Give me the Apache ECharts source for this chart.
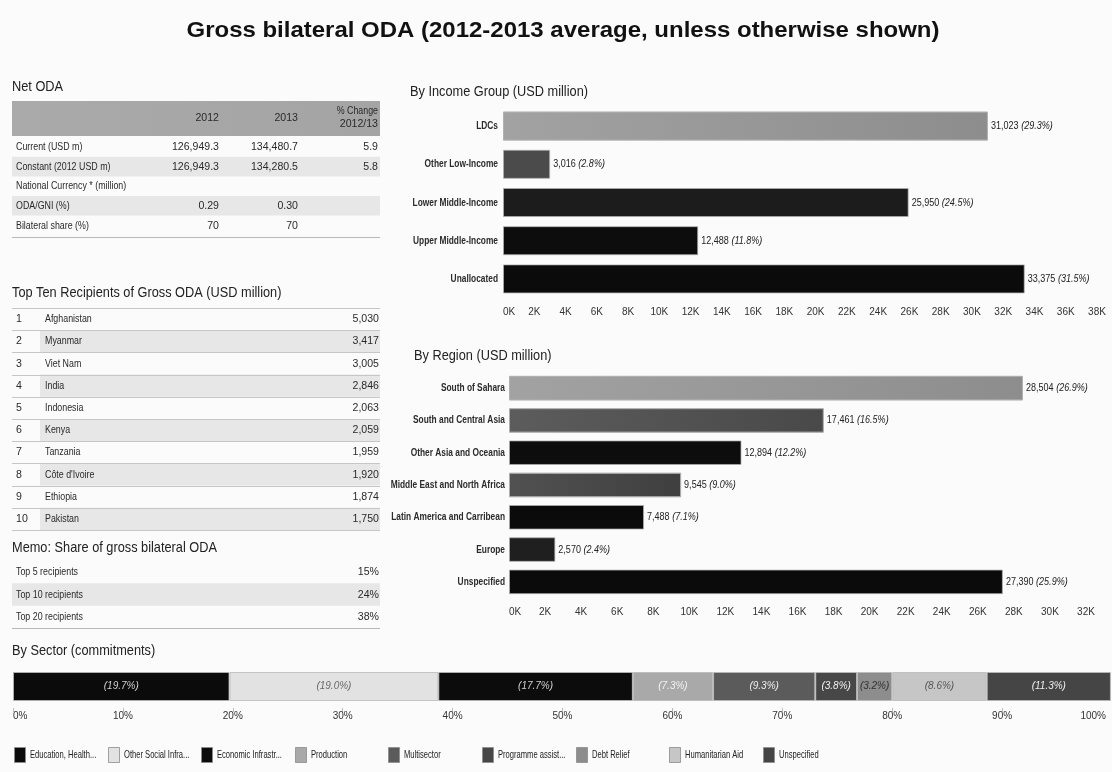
<!DOCTYPE html>
<html><head><meta charset="utf-8">
<script src="https://cdn.jsdelivr.net/npm/echarts@6/dist/echarts.min.js"></script>
<style>html,body{margin:0;padding:0;background:#fbfbfb;}#c{width:1112px;height:772px;}</style>
</head><body><div id="c"></div>
<script>
// ---------------- DATA ----------------
const mainTitle = 'Gross bilateral ODA (2012-2013 average, unless otherwise shown)';

const odaHeaders = ['2012', '2013', '% Change', '2012/13'];
const odaRowLabels = ['Current (USD m)', 'Constant (2012 USD m)', 'National Currency * (million)', 'ODA/GNI (%)', 'Bilateral share (%)'];
const oda2012 = ['126,949.3', '126,949.3', '', '0.29', '70'];
const oda2013 = ['134,480.7', '134,280.5', '', '0.30', '70'];
const odaChange = ['5.9', '5.8', '', '', ''];

const topRanks = [1, 2, 3, 4, 5, 6, 7, 8, 9, 10];
const topNames = ['Afghanistan', 'Myanmar', 'Viet Nam', 'India', 'Indonesia', 'Kenya', 'Tanzania', 'Côte d\'Ivoire', 'Ethiopia', 'Pakistan'];
const topValues = [5030, 3417, 3005, 2846, 2063, 2059, 1959, 1920, 1874, 1750];

const memoLabels = ['Top 5 recipients', 'Top 10 recipients', 'Top 20 recipients'];
const memoValues = ['15%', '24%', '38%'];

const incomeCategories = ['LDCs', 'Other Low-Income', 'Lower Middle-Income', 'Upper Middle-Income', 'Unallocated'];
const incomeValues = [31023, 3016, 25950, 12488, 33375];
const incomeShares = [29.3, 2.8, 24.5, 11.8, 31.5];

const regionCategories = ['South of Sahara', 'South and Central Asia', 'Other Asia and Oceania', 'Middle East and North Africa', 'Latin America and Carribean', 'Europe', 'Unspecified'];
const regionValues = [28504, 17461, 12894, 9545, 7488, 2570, 27390];
const regionShares = [26.9, 16.5, 12.2, 9.0, 7.1, 2.4, 25.9];

const sectorNames = ['Education, Health...', 'Other Social Infra...', 'Economic Infrastr...', 'Production', 'Multisector', 'Programme assist...', 'Debt Relief', 'Humanitarian Aid', 'Unspecified'];
const sectorShares = [19.7, 19.0, 17.7, 7.3, 9.3, 3.8, 3.2, 8.6, 11.3];

// ---------------- STYLES ----------------
const FAM = '"Liberation Sans", Arial, sans-serif';
const fnt = (size, extra) => (extra ? extra + ' ' : '') + size + 'px ' + FAM;
function grad(a, b) { return {type: 'linear', x: 0, y: 0, x2: 1, y2: 0, colorStops: [{offset: 0, color: a}, {offset: 1, color: b}]}; }
const incomeColors = [grad('#a2a2a2', '#8d8d8d'), '#4b4b4b', '#1c1c1c', '#0d0d0d', '#0b0b0b'];
const regionColors = [grad('#a2a2a2', '#8d8d8d'), grad('#5c5c5c', '#494949'), '#0d0d0d', grad('#515151', '#3f3f3f'), '#0b0b0b', '#1f1f1f', '#0b0b0b'];
const sectorColors = ['#0b0b0b', '#e2e2e2', '#0c0c0c', '#a9a9a9', '#5b5b5b', '#474747', '#8d8d8d', '#c6c6c6', '#454545'];
const sectorLabelColors = ['#cfcfcf', '#6a6a6a', '#cfcfcf', '#f2f2f2', '#eeeeee', '#f2f2f2', '#333333', '#555555', '#eeeeee'];
const fmt = n => n.toLocaleString('en-US');
const SX = 0.77;   // horizontal condensing of small texts

// ---------------- GRAPHIC helpers ----------------
const g = [];
function txt(x, y, s, o) {
  o = o || {};
  g.push({type: 'text', x: x, y: y, scaleX: o.sx == null ? SX : o.sx, silent: true,
    style: {text: s, fill: o.fill || '#2a2a2a', font: o.font || fnt(11.5), align: o.align || 'left', verticalAlign: 'middle', rich: o.rich}});
}
function rct(x, y, w, h, fill, stroke) { g.push({type: 'rect', silent: true, shape: {x: x, y: y, width: w, height: h}, style: {fill: fill, stroke: stroke || null, lineWidth: stroke ? 1 : 0}}); }
function lin(x1, y, x2, stroke) { g.push({type: 'line', silent: true, shape: {x1: x1, y1: y + 0.5, x2: x2, y2: y + 0.5}, style: {stroke: stroke || '#c4c4c4', lineWidth: 1}}); }

// main + section titles
txt(563, 31, mainTitle, {font: fnt(22, 'bold'), fill: '#111', align: 'center', sx: 1.09});
const secT = {font: fnt(14.5), fill: '#222', sx: 0.88};
txt(12, 87, 'Net ODA', secT);
txt(12, 293, 'Top Ten Recipients of Gross ODA (USD million)', secT);
txt(12, 548, 'Memo: Share of gross bilateral ODA', secT);
txt(410, 92, 'By Income Group (USD million)', secT);
txt(414, 356, 'By Region (USD million)', secT);
txt(12, 651, 'By Sector (commitments)', secT);

// Net ODA table
const numT = {align: 'right', sx: 0.92};
rct(12, 101, 368, 35, grad('#aaaaaa', '#a4a4a4'));
txt(219, 118, odaHeaders[0], numT);
txt(298, 118, odaHeaders[1], numT);
txt(378, 111, odaHeaders[2], {align: 'right'});
txt(378, 124, odaHeaders[3], numT);
const odaY0 = 147, odaStep = 19.6;
odaRowLabels.forEach((lab, i) => {
  const cy = odaY0 + i * odaStep;
  if (i % 2 === 1) rct(12, cy - odaStep / 2, 368, odaStep, '#e7e7e7');
});
odaRowLabels.forEach((lab, i) => {
  const cy = odaY0 + i * odaStep;
  txt(16, cy, lab);
  txt(219, cy, oda2012[i], numT);
  txt(298, cy, oda2013[i], numT);
  txt(378, cy, odaChange[i], numT);
});
lin(12, 237, 380, '#b8b8b8');

// Top ten table
const topY0 = 319, topStep = 22.2;
topNames.forEach((n, i) => {
  const cy = topY0 + i * topStep;
  if (i % 2 === 1) rct(40, cy - topStep / 2, 340, topStep, '#e7e7e7');
});
for (let i = 0; i <= topNames.length; i++) lin(12, Math.round(topY0 - topStep / 2 + i * topStep), 380, '#c6c6c6');
topNames.forEach((n, i) => {
  const cy = topY0 + i * topStep;
  txt(16, cy, String(topRanks[i]), {sx: 0.92});
  txt(45, cy, n);
  txt(379, cy, fmt(topValues[i]), numT);
});

// Memo table
const memoY0 = 572, memoStep = 22.5;
memoLabels.forEach((n, i) => {
  const cy = memoY0 + i * memoStep;
  if (i % 2 === 1) rct(12, cy - memoStep / 2, 368, memoStep, '#e7e7e7');
});
memoLabels.forEach((n, i) => {
  const cy = memoY0 + i * memoStep;
  txt(16, cy, n);
  txt(379, cy, memoValues[i], numT);
});
lin(12, 628, 380, '#b8b8b8');

// Sector legend
sectorNames.forEach((n, i) => {
  const x = 14 + i * 93.6;
  rct(Math.round(x) + 0.5, 747.5, 11, 15, sectorColors[i], 'rgba(140,140,140,0.8)');
  txt(Math.round(x) + 16, 755, n, {font: fnt(11), sx: 0.69, fill: '#222'});
});

// ---------------- CHART ----------------
function barSeries(values, colors, idx) {
  return {
    type: 'bar', xAxisIndex: idx, yAxisIndex: idx, barCategoryGap: '24%', silent: true,
    data: values.map((v, i) => ({value: v, itemStyle: {color: colors[i]}})),
    itemStyle: {borderColor: 'rgba(175,175,175,0.75)', borderWidth: 1}
  };
}
function valueAxis(idx, max) {
  return {type: 'value', gridIndex: idx, min: 0, max: max, interval: 2000,
    axisLine: {show: false}, axisTick: {show: false}, splitLine: {show: false},
    axisLabel: {formatter: v => (v / 1000) + 'K', fontFamily: FAM, fontSize: 10, color: '#333', margin: 9, alignMinLabel: 'left'}};
}
function catAxis(idx, cats) {
  return {type: 'category', gridIndex: idx, data: cats, inverse: true,
    axisLine: {show: false}, axisTick: {show: false}, axisLabel: {show: false}};
}

const sectorSeries = sectorNames.map((name, i) => ({
  name: name, type: 'bar', stack: 'sector', xAxisIndex: 2, yAxisIndex: 2, barWidth: '100%', silent: true,
  data: [sectorShares[i]],
  itemStyle: {color: sectorColors[i], borderColor: 'rgba(185,185,185,0.8)', borderWidth: 1},
  label: {show: true, position: 'inside', fontFamily: FAM, fontSize: 10, fontStyle: 'italic', color: sectorLabelColors[i],
    formatter: p => '(' + p.value.toFixed(1) + '%)'}
}));

const option = {
  backgroundColor: '#fbfbfb',
  animation: false,
  grid: [
    {left: 503, top: 107, width: 594, height: 191},
    {left: 509, top: 372, width: 577, height: 226},
    {left: 13, top: 672, width: 1104, height: 29}
  ],
  xAxis: [
    valueAxis(0, 38000),
    valueAxis(1, 32000),
    {type: 'value', gridIndex: 2, min: 0, max: 100, interval: 10, offset: 7,
      axisLine: {show: false}, splitLine: {show: false},
      axisTick: {show: true, length: 4, lineStyle: {color: '#bdbdbd'}},
      axisLabel: {margin: 3, fontFamily: FAM, fontSize: 10, color: '#333', alignMinLabel: 'left', alignMaxLabel: 'right',
        formatter: v => v === 100 ? '{m|100%}' : v + '%', rich: {m: {fontFamily: FAM, fontSize: 10, color: '#333', padding: [0, 6, 0, 0]}}}}
  ],
  yAxis: [
    catAxis(0, incomeCategories),
    catAxis(1, regionCategories),
    {type: 'category', gridIndex: 2, data: [''], show: false}
  ],
  series: [
    barSeries(incomeValues, incomeColors, 0),
    barSeries(regionValues, regionColors, 1)
  ].concat(sectorSeries)
};

const chart = echarts.init(document.getElementById('c'), null, {renderer: 'canvas'});
chart.setOption(option);

// category labels and value labels positioned through the chart's own scales
const valRich = {
  v: {fontFamily: FAM, fontSize: 11, fill: '#222'},
  p: {fontFamily: FAM, fontSize: 11, fill: '#222', fontStyle: 'italic'}
};
function addBarTexts(idx, cats, values, shares, margin) {
  const x0 = chart.convertToPixel({xAxisIndex: idx}, 0);
  cats.forEach((c, i) => {
    const y = chart.convertToPixel({yAxisIndex: idx}, i);
    txt(x0 - margin, y, c, {align: 'right', font: fnt(11, 'bold'), fill: '#2b2b2b', sx: 0.76});
    const xv = chart.convertToPixel({xAxisIndex: idx}, values[i]);
    txt(xv + 3, y, '{v|' + fmt(values[i]) + '} {p|(' + shares[i].toFixed(1) + '%)}', {rich: valRich, sx: 0.82});
  });
}
addBarTexts(0, incomeCategories, incomeValues, incomeShares, 5);
addBarTexts(1, regionCategories, regionValues, regionShares, 4);

chart.setOption({graphic: g});
</script>
</body></html>
